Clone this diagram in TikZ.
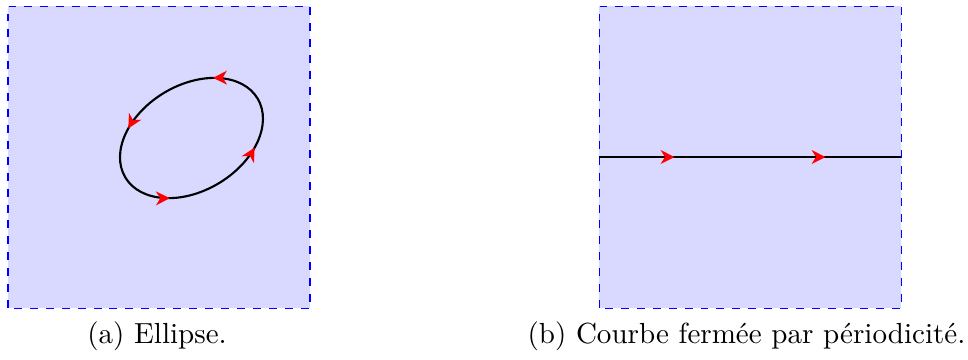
\documentclass[tikz,border=0pt]{standalone}
\usetikzlibrary{decorations.markings,arrows.meta}
\begin{document}
\begin{tikzpicture}[
  panel/.style={draw=blue, dashed, fill=blue!15},
  curve/.style={thick, postaction={decorate}},
  tipr/.tip={Stealth[red, length=5.2pt, width=5.2pt, inset=1.6pt]},
  caption/.style={anchor=base, inner sep=0pt, font=\fontsize{10.95}{13.6}\selectfont}
]
\useasboundingbox (0,0) rectangle (12.821,4.755);
% panel (a)
\path[panel] (0.106,0.675) rectangle (4.106,4.675);
\draw[curve, decoration={markings,
    mark=at position 0.125 with {\arrow{tipr}},
    mark=at position 0.375 with {\arrow{tipr}},
    mark=at position 0.625 with {\arrow{tipr}},
    mark=at position 0.875 with {\arrow{tipr}}}]
  (2.536,2.927) [rotate around={30.8:(2.536,2.927)}] ellipse [x radius=1.02cm, y radius=0.70cm];
% panel (b)
\path[panel] (7.934,0.675) rectangle (11.934,4.675);
\coordinate (L) at (7.934,2.675);
\coordinate (R) at (11.934,2.675);
\draw[curve, decoration={markings,
    mark=at position 0.25 with {\arrow{tipr}},
    mark=at position 0.75 with {\arrow{tipr}}}]
  (L) -- (R);
% captions
\node[caption] (capa) at (2.08,0.205) {(a) Ellipse.};
\node[caption] (capb) at (9.887,0.205) {(b) Courbe fermée par périodicité.};
\end{tikzpicture}
\end{document}
